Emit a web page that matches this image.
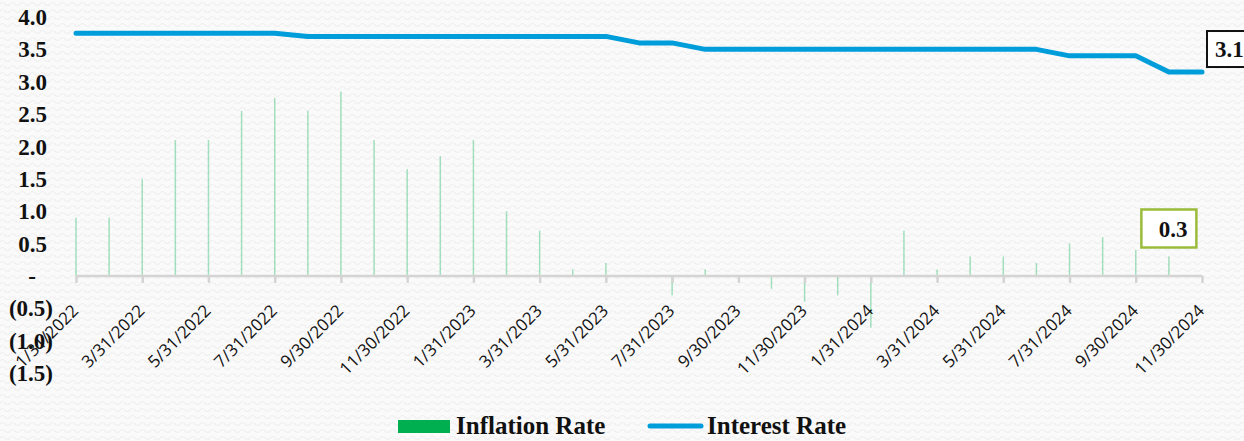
<!DOCTYPE html>
<html>
<head>
<meta charset="utf-8">
<script src="https://cdn.jsdelivr.net/npm/d3@7"></script>
<style>
  html, body { margin: 0; padding: 0; background: #fafafa; }
  svg { display: block; }
</style>
</head>
<body>
<div id="chart"></div>
<script>
// month-end dates (category axis)
var months = [
  "1/31/2022", "2/28/2022", "3/31/2022", "4/30/2022", "5/31/2022", "6/30/2022",
  "7/31/2022", "8/31/2022", "9/30/2022", "10/31/2022", "11/30/2022", "12/31/2022",
  "1/31/2023", "2/28/2023", "3/31/2023", "4/30/2023", "5/31/2023", "6/30/2023",
  "7/31/2023", "8/31/2023", "9/30/2023", "10/31/2023", "11/30/2023", "12/31/2023",
  "1/31/2024", "2/29/2024", "3/31/2024", "4/30/2024", "5/31/2024", "6/30/2024",
  "7/31/2024", "8/31/2024", "9/30/2024", "10/31/2024", "11/30/2024"
];

var inflation = [
  0.9, 0.9, 1.5, 2.1, 2.1, 2.55,
  2.75, 2.55, 2.85, 2.1, 1.65, 1.85,
  2.1, 1.0, 0.7, 0.1, 0.2, 0,
  -0.3, 0.1, 0, -0.2, -0.4, -0.3,
  -0.8, 0.7, 0.1, 0.3, 0.3, 0.2,
  0.5, 0.6, 0.4, 0.3, null
];

var interest = [
  3.75, 3.75, 3.75, 3.75, 3.75, 3.75,
  3.75, 3.7, 3.7, 3.7, 3.7, 3.7,
  3.7, 3.7, 3.7, 3.7, 3.7, 3.6,
  3.6, 3.5, 3.5, 3.5, 3.5, 3.5,
  3.5, 3.5, 3.5, 3.5, 3.5, 3.5,
  3.4, 3.4, 3.4, 3.15, 3.15
];

var yTicks = [4, 3.5, 3, 2.5, 2, 1.5, 1, 0.5, 0, -0.5, -1, -1.5];

var width = 1244,
  height = 441;

var serif = "'Liberation Serif', 'DejaVu Serif', serif";

var svg = d3
  .select("#chart")
  .append("svg")
  .attr("width", width)
  .attr("height", height);

// faint wavy background texture
var defs = svg.append("defs");
var pat = defs
  .append("pattern")
  .attr("id", "waves")
  .attr("width", 10)
  .attr("height", 7)
  .attr("patternUnits", "userSpaceOnUse");
pat.append("rect").attr("width", 10).attr("height", 7).attr("fill", "#fafafa");
pat
  .append("path")
  .attr("d", "M0 4 Q2.5 1 5 4 T10 4")
  .attr("fill", "none")
  .attr("stroke", "#f0f0f0")
  .attr("stroke-width", 1.2);
svg.append("rect").attr("width", width).attr("height", height).attr("fill", "url(#waves)");

var xScale = d3
  .scalePoint()
  .domain(months)
  .range([76, 1202]);

var yScale = d3
  .scaleLinear()
  .domain([-1.5, 4])
  .range([373, 17]);

function fmt(v) {
  if (v === 0) return "-";
  if (v < 0) return "(" + Math.abs(v).toFixed(1) + ")";
  return v.toFixed(1);
}

// y axis labels (no axis line)
svg
  .append("g")
  .selectAll("text")
  .data(yTicks)
  .enter()
  .append("text")
  .attr("x", function(d) {
    if (d === 0) return 36;
    return d < 0 ? 53 : 47;
  })
  .attr("y", function(d) {
    return yScale(d);
  })
  .attr("dy", "0.35em")
  .attr("text-anchor", "end")
  .style("font-family", serif)
  .style("font-weight", "bold")
  .style("font-size", "23px")
  .attr("fill", "#111")
  .text(fmt);

// bars
var barW = 1.5;
svg
  .append("g")
  .selectAll("rect")
  .data(inflation.map(function(v, i) { return { m: months[i], v: v }; }).filter(function(d) { return d.v !== null && d.v !== 0; }))
  .enter()
  .append("rect")
  .attr("x", function(d) {
    return xScale(d.m) - barW / 2;
  })
  .attr("y", function(d) {
    return yScale(Math.max(0, d.v));
  })
  .attr("width", barW)
  .attr("height", function(d) {
    return Math.abs(yScale(d.v) - yScale(0));
  })
  .attr("fill", "#00b050")
  .attr("fill-opacity", 0.35);

// x axis
var xAxis = d3
  .axisBottom(xScale)
  .tickValues(months.filter(function(d, i) { return i % 2 === 0; }))
  .tickSize(7)
  .tickPadding(0);

var xAxisGroup = svg
  .append("g")
  .attr("transform", "translate(0," + yScale(0) + ")")
  .call(xAxis);

xAxisGroup.select(".domain").attr("stroke", "#d4d4d4").attr("stroke-width", 2.5).attr("d", "M76,0H1202");
xAxisGroup.selectAll(".tick line").attr("stroke", "#d4d4d4").attr("stroke-width", 2.5);
xAxisGroup
  .selectAll(".tick text")
  .attr("y", null)
  .attr("dy", null)
  .attr("text-anchor", "end")
  .attr("transform", "translate(3,36) rotate(-45)")
  .attr("fill", "#111")
  .style("font-family", "'Open Sans', sans-serif")
  .style("font-size", "17px");

// interest rate line
var line = d3
  .line()
  .x(function(d, i) {
    return xScale(months[i]);
  })
  .y(function(d) {
    return yScale(d);
  });

svg
  .append("path")
  .datum(interest)
  .attr("d", line)
  .attr("fill", "none")
  .attr("stroke", "#009ddb")
  .attr("stroke-width", 5)
  .attr("stroke-linejoin", "round")
  .attr("stroke-linecap", "round");

// data labels
var lastI = interest.length - 1;
var lx = xScale(months[lastI]) + 5,
  ly = yScale(interest[lastI]) - 41;
svg
  .append("rect")
  .attr("x", lx)
  .attr("y", ly)
  .attr("width", 62)
  .attr("height", 36)
  .attr("fill", "#fff")
  .attr("stroke", "#111")
  .attr("stroke-width", 2);
svg
  .append("text")
  .attr("x", lx + 8)
  .attr("y", ly + 18)
  .attr("dy", "0.35em")
  .style("font-family", serif)
  .style("font-weight", "bold")
  .style("font-size", "23px")
  .attr("fill", "#111")
  .text(interest[lastI].toFixed(1));

var infI = 33;
var bx = xScale(months[infI]) - 27.5,
  by = yScale(inflation[infI]) - 47;
svg
  .append("rect")
  .attr("x", bx)
  .attr("y", by)
  .attr("width", 55)
  .attr("height", 38)
  .attr("fill", "#fff")
  .attr("stroke", "#9bbb3b")
  .attr("stroke-width", 2.5);
svg
  .append("text")
  .attr("x", bx + 46)
  .attr("y", by + 19)
  .attr("dy", "0.35em")
  .attr("text-anchor", "end")
  .style("font-family", serif)
  .style("font-weight", "bold")
  .style("font-size", "23px")
  .attr("fill", "#111")
  .text(inflation[infI].toFixed(1));

// legend
var legend = svg.append("g");
legend.append("rect").attr("x", 398).attr("y", 420).attr("width", 52).attr("height", 13).attr("fill", "#00b050");
legend
  .append("text")
  .attr("x", 456)
  .attr("y", 434)
  .style("font-family", serif)
  .style("font-weight", "bold")
  .style("font-size", "25px")
  .attr("fill", "#111")
  .text("Inflation Rate");
legend
  .append("line")
  .attr("x1", 650)
  .attr("x2", 701)
  .attr("y1", 426)
  .attr("y2", 426)
  .attr("stroke", "#009ddb")
  .attr("stroke-width", 5)
  .attr("stroke-linecap", "round");
legend
  .append("text")
  .attr("x", 707)
  .attr("y", 434)
  .style("font-family", serif)
  .style("font-weight", "bold")
  .style("font-size", "25px")
  .attr("fill", "#111")
  .text("Interest Rate");
</script>
</body>
</html>
